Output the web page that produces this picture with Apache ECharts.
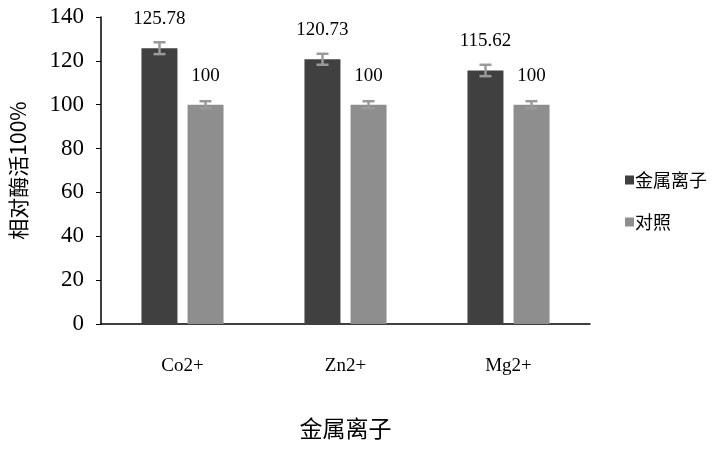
<!DOCTYPE html>
<html><head><meta charset="utf-8">
<script src="https://cdn.jsdelivr.net/npm/echarts@6/dist/echarts.min.js"></script>
<style>html,body{margin:0;padding:0;background:#fff}#c{width:715px;height:450px}</style>
</head><body><div id="c"></div>
<script>
const categories = ['Co2+', 'Zn2+', 'Mg2+'];
const metalValues = [125.78, 120.73, 115.62];
const metalErrors = [2.7, 2.5, 2.6];
const controlValues = [100, 100, 100];
const controlErrors = [1.6, 1.6, 1.6];
const yTicks = [0, 20, 40, 60, 80, 100, 120, 140];

const chart = echarts.init(document.getElementById('c'));
const serif = '"Liberation Serif", "DejaVu Serif", serif';
const cjk = '"Noto Sans CJK SC", sans-serif';

function errSeries(values, errors, seriesIndex, nSeries) {
  return {
    type: 'custom',
    z: 10,
    silent: true,
    data: values.map((v, i) => [i, v - errors[i], v + errors[i]]),
    renderItem: function (params, api) {
      const idx = api.value(0);
      const lo = api.coord([idx, api.value(1)]);
      const hi = api.coord([idx, api.value(2)]);
      const barW = 36, gap = 10;
      const groupW = barW * nSeries + gap * (nSeries - 1);
      const x = lo[0] - groupW / 2 + seriesIndex * (barW + gap) + barW / 2;
      const cap = 6;
      const style = { stroke: '#9a9a9a', lineWidth: 2.5 };
      return {
        type: 'group',
        children: [
          { type: 'line', shape: { x1: x, y1: lo[1], x2: x, y2: hi[1] }, style },
          { type: 'line', shape: { x1: x - cap, y1: hi[1], x2: x + cap, y2: hi[1] }, style },
          { type: 'line', shape: { x1: x - cap, y1: lo[1], x2: x + cap, y2: lo[1] }, style }
        ]
      };
    }
  };
}

chart.setOption({
  animation: false,
  backgroundColor: '#fff',
  grid: { left: 101, right: 125, top: 17, bottom: 126 },
  legend: {
    orient: 'vertical',
    left: 620, top: 166,
    itemWidth: 9, itemHeight: 9, itemGap: 24,
    icon: 'rect',
    textStyle: { fontFamily: cjk, fontSize: 18, color: '#000', padding: [0, 0, 0, -4] },
    data: ['金属离子', '对照']
  },
  xAxis: {
    type: 'category',
    data: categories,
    name: '金属离子',
    nameLocation: 'middle',
    nameGap: 93,
    nameTextStyle: { fontFamily: cjk, fontSize: 23, color: '#000' },
    axisLine: { lineStyle: { color: '#000', width: 1.5 } },
    axisTick: { inside: true, length: 6, lineStyle: { color: '#000' } },
    axisLabel: { fontFamily: serif, fontSize: 19, color: '#000', margin: 33 }
  },
  yAxis: {
    type: 'value',
    min: 0, max: 140, interval: 20,
    name: '相对酶活100%',
    nameLocation: 'middle',
    nameGap: 72,
    nameRotate: 90,
    nameTextStyle: { fontFamily: cjk, fontSize: 21, color: '#000' },
    splitLine: { show: false },
    axisLine: { show: true, lineStyle: { color: '#000', width: 1.5 } },
    axisTick: { show: true, length: 5, lineStyle: { color: '#000' } },
    axisLabel: { fontFamily: serif, fontSize: 23, color: '#000', margin: 17,
      formatter: v => yTicks.includes(v) ? String(v) : '' }
  },
  series: [
    {
      name: '金属离子', type: 'bar', data: metalValues,
      barWidth: 36, barGap: '28%',
      itemStyle: { color: '#404040' },
      label: { show: true, position: 'top', distance: 20, fontFamily: serif, fontSize: 19, color: '#000',
        formatter: p => p.value.toFixed(2) }
    },
    {
      name: '对照', type: 'bar', data: controlValues,
      barWidth: 36, barGap: '28%',
      itemStyle: { color: '#8e8e8e' },
      label: { show: true, position: 'top', distance: 19, fontFamily: serif, fontSize: 19, color: '#000' }
    },
    errSeries(metalValues, metalErrors, 0, 2),
    errSeries(controlValues, controlErrors, 1, 2)
  ]
});
</script></body></html>
